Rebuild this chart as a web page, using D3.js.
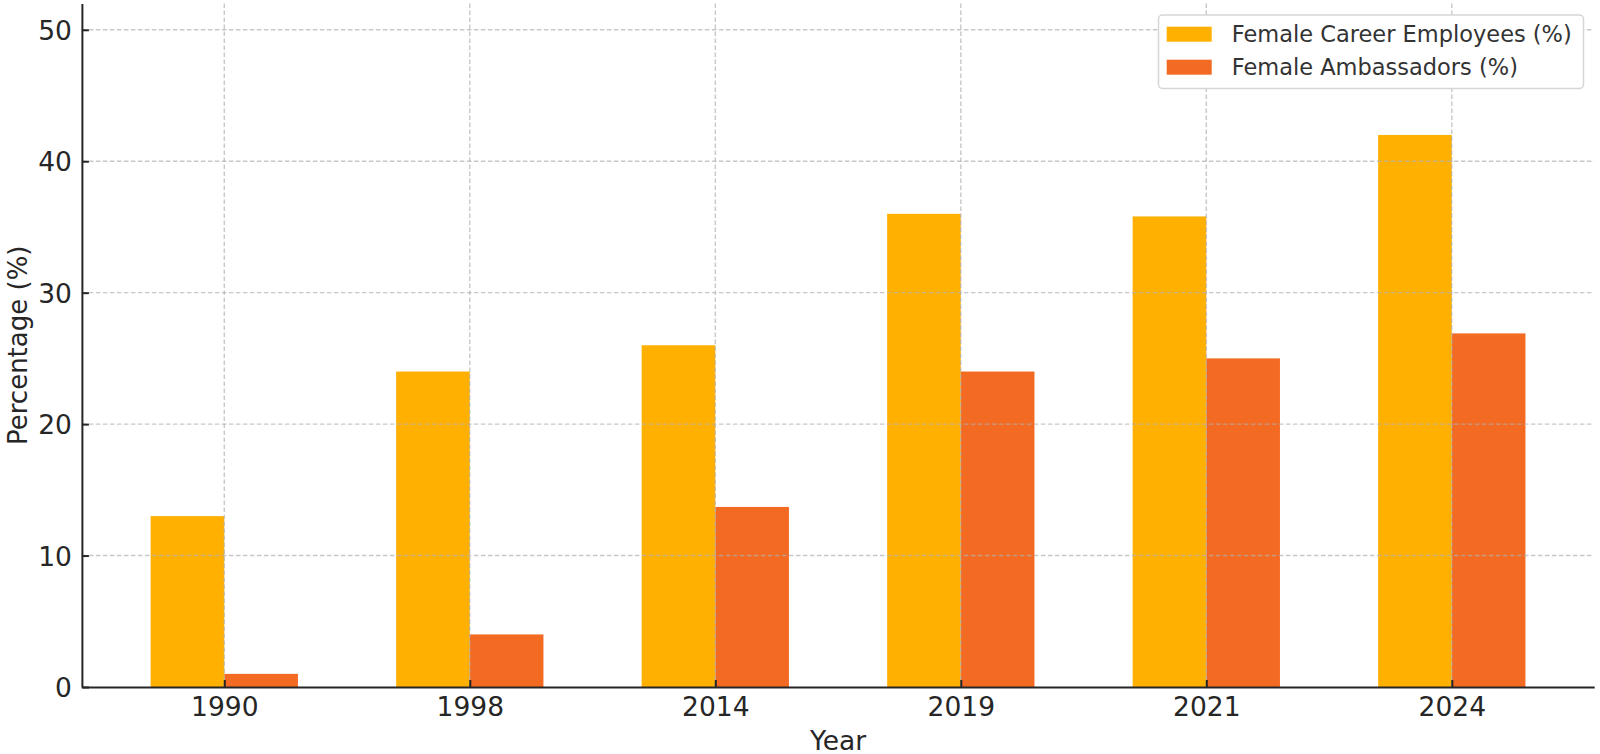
<!DOCTYPE html>
<html>
<head>
<meta charset="utf-8">
<script src="https://cdn.jsdelivr.net/npm/d3@7"></script>
<style>
  html, body { margin: 0; padding: 0; background: #ffffff; }
  svg { display: block; font-family: "DejaVu Sans", sans-serif; }
</style>
</head>
<body>
<svg id="chart" width="1600" height="754"></svg>
<script>
const years = ["1990", "1998", "2014", "2019", "2021", "2024"];
const careerEmployees = [13, 24, 26, 36, 35.8, 42];
const ambassadors = [1, 4, 13.7, 24, 25, 26.9];
const seriesNames = ["Female Career Employees (%)", "Female Ambassadors (%)"];
const seriesColors = ["#FFB000", "#F36A23"];
const yTicks = [0, 10, 20, 30, 40, 50];
const xLabel = "Year";
const yLabel = "Percentage (%)";

const svg = d3.select("#chart");
const pL = 81.9, pR = 1594.2, pT = 3.5, pB = 687;

const x = d3.scaleLinear().domain([-0.58, years.length - 1 + 0.58]).range([pL, pR]);
const y = d3.scaleLinear().domain([0, 52]).range([pB, pT]);
const barW = 0.3;

const series = [careerEmployees, ambassadors];
const offsets = [-barW, 0];

// bars
series.forEach((vals, s) => {
  svg.append("g").selectAll("rect").data(vals).join("rect")
    .attr("x", (d, i) => x(i + offsets[s]))
    .attr("width", (d, i) => x(i + offsets[s] + barW) - x(i + offsets[s]))
    .attr("y", d => y(d))
    .attr("height", d => y(0) - y(d))
    .attr("fill", seriesColors[s]);
});

// grid (drawn above bars like matplotlib default)
const grid = svg.append("g").attr("stroke", "#b0b0b0").attr("stroke-opacity", 0.7)
  .attr("stroke-width", 1.4).attr("stroke-dasharray", "4.5,2.5");
grid.selectAll("line.h").data(yTicks.filter(t => t > 0)).join("line")
  .attr("class", "h")
  .attr("x1", pL).attr("x2", pR)
  .attr("y1", d => y(d)).attr("y2", d => y(d));
grid.selectAll("line.v").data(years).join("line")
  .attr("class", "v")
  .attr("x1", (d, i) => x(i)).attr("x2", (d, i) => x(i))
  .attr("y1", pT).attr("y2", pB);

// axes
const yAxis = d3.axisLeft(y).tickValues(yTicks).tickSizeInner(-7).tickSizeOuter(0).tickPadding(10);
const gy = svg.append("g").attr("transform", `translate(${pL},0)`).call(yAxis);
const xAxis = d3.axisBottom(x).tickValues(d3.range(years.length)).tickFormat(i => years[i])
  .tickSizeInner(-7).tickSizeOuter(0).tickPadding(17);
const gx = svg.append("g").attr("transform", `translate(0,${pB})`).call(xAxis);

[gx, gy].forEach(g => {
  g.select(".domain").attr("stroke", "#262626").attr("stroke-width", 2);
  g.selectAll(".tick line").attr("stroke", "#262626").attr("stroke-width", 2);
  g.selectAll(".tick text").attr("fill", "#262626")
    .style("font-family", "'DejaVu Sans', sans-serif").style("font-size", "26.5px");
});
gx.selectAll(".tick text").attr("dy", null).attr("y", 29).attr("dominant-baseline", "auto");
gy.selectAll(".tick text").attr("dy", "0.36em");

// axis labels
svg.append("text").attr("x", (pL + pR) / 2).attr("y", 749.5)
  .attr("text-anchor", "middle").attr("fill", "#262626")
  .style("font-size", "26.5px").text(xLabel);
svg.append("text").attr("transform", `translate(26.5,${(pT + pB) / 2}) rotate(-90)`)
  .attr("text-anchor", "middle").attr("fill", "#262626")
  .style("font-size", "26px").text(yLabel);

// legend
const lg = svg.append("g");
lg.append("rect").attr("x", 1158.5).attr("y", 15).attr("width", 425).attr("height", 73.5)
  .attr("rx", 4).attr("fill", "#ffffff").attr("stroke", "#d6d6d6").attr("stroke-width", 1.5);
seriesNames.forEach((name, s) => {
  const cy = 34.2 + s * 33;
  lg.append("rect").attr("x", 1166.7).attr("y", cy - 7.5).attr("width", 45).attr("height", 15)
    .attr("fill", seriesColors[s]);
  lg.append("text").attr("x", 1231.7).attr("y", cy).attr("dy", "0.36em")
    .attr("fill", "#333333").style("font-size", "22.5px").text(name);
});
</script>
</body>
</html>
